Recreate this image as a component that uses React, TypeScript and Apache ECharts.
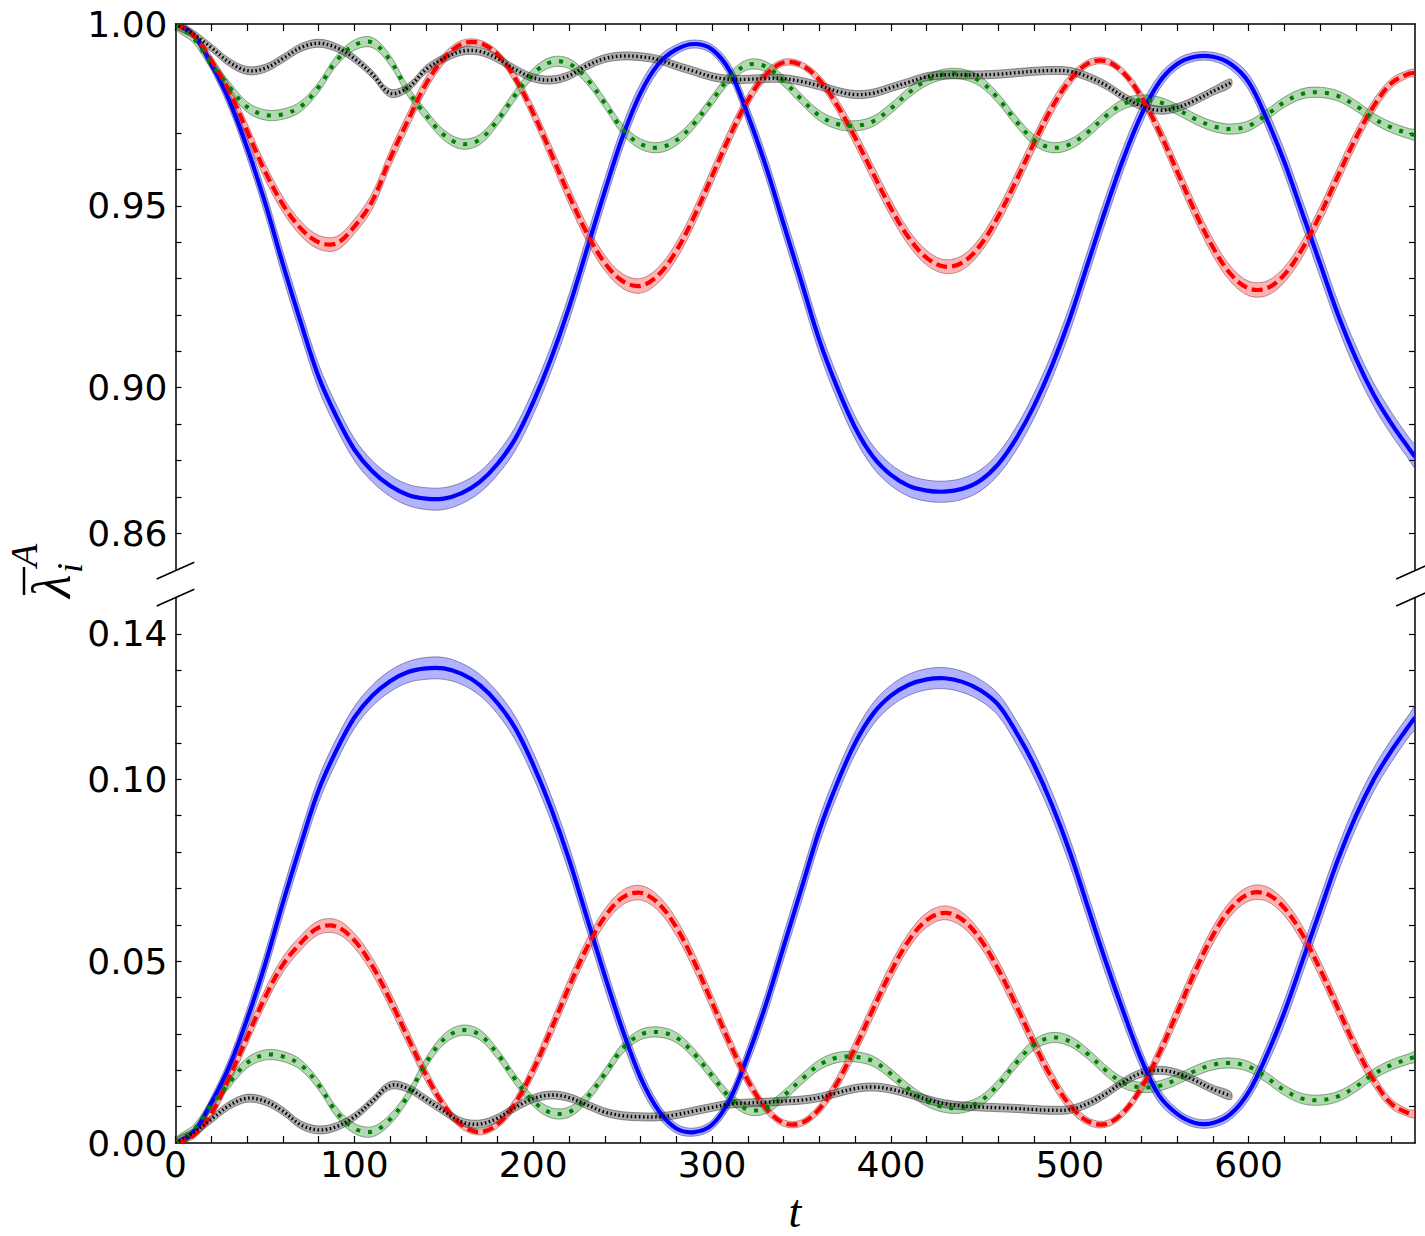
import React, { useEffect, useRef } from "react";
import * as echarts from "echarts";

// ---------- data ----------
const tValues = [
  0, 10, 20, 30, 40, 50, 60, 70, 80, 90,
  100, 110, 120, 130, 140, 150, 160, 170, 180, 190,
  200, 210, 220, 230, 240, 250, 260, 270, 280, 290,
  300, 310, 320, 330, 340, 350, 360, 370, 380, 390,
  400, 410, 420, 430, 440, 450, 460, 470, 480, 490,
  500, 510, 520, 530, 540, 550, 560, 570, 580, 590,
  600, 610, 620, 630, 640, 650, 660, 670, 680, 690, 693,
];

// upper panel (large eigenvalue)
const blueTop = [
  1.0, 0.997, 0.989, 0.979, 0.966, 0.951, 0.934, 0.918, 0.903, 0.892,
  0.883, 0.877, 0.873, 0.8705, 0.8695, 0.8695, 0.871, 0.874, 0.879, 0.886,
  0.896, 0.908, 0.922, 0.938, 0.954, 0.969, 0.981, 0.989, 0.993, 0.9945,
  0.993, 0.987, 0.975, 0.961, 0.945, 0.929, 0.913, 0.9, 0.889, 0.881,
  0.876, 0.873, 0.8717, 0.8714, 0.8722, 0.8745, 0.879, 0.886, 0.895, 0.906,
  0.919, 0.934, 0.949, 0.963, 0.975, 0.984, 0.989, 0.991, 0.991, 0.989,
  0.984, 0.974, 0.962, 0.948, 0.934, 0.92, 0.908, 0.898, 0.89, 0.883, 0.881,
];
const redTop = [
  1.0, 0.997, 0.99, 0.9815, 0.9706, 0.9595, 0.9504, 0.9438, 0.94, 0.9397,
  0.9443, 0.9513, 0.963, 0.9735, 0.9835, 0.9905, 0.9945, 0.9948, 0.9917, 0.985,
  0.9755, 0.9644, 0.9529, 0.9425, 0.9343, 0.9293, 0.928, 0.931, 0.9376, 0.9471,
  0.9582, 0.9693, 0.979, 0.986, 0.9894, 0.9887, 0.9846, 0.9776, 0.9687, 0.9589,
  0.9493, 0.9412, 0.9357, 0.9333, 0.9344, 0.9392, 0.9471, 0.9569, 0.9673, 0.977,
  0.9845, 0.9891, 0.9898, 0.9866, 0.9799, 0.9705, 0.9595, 0.9484, 0.9386, 0.9312,
  0.9273, 0.9273, 0.9311, 0.9382, 0.9476, 0.9583, 0.9687, 0.9775, 0.9838, 0.9864, 0.9865,
];
const greenTop = [
  1.0, 0.9962, 0.989, 0.9828, 0.9772, 0.975, 0.9752, 0.9773, 0.9826, 0.9899,
  0.9942, 0.9949, 0.99, 0.9815, 0.975, 0.9695, 0.967, 0.9682, 0.9735, 0.9805,
  0.9864, 0.9895, 0.9891, 0.9849, 0.9782, 0.971, 0.967, 0.966, 0.968, 0.9727,
  0.979, 0.9853, 0.9888, 0.9883, 0.9843, 0.9793, 0.9748, 0.9725, 0.972, 0.9732,
  0.9768, 0.9811, 0.9845, 0.9862, 0.9862, 0.9842, 0.9795, 0.9733, 0.9681, 0.966,
  0.9669, 0.9702, 0.9746, 0.978, 0.9791, 0.9785, 0.9765, 0.9739, 0.9719, 0.9711,
  0.972, 0.975, 0.9785, 0.9808, 0.9812, 0.9802, 0.9775, 0.974, 0.9715, 0.9698, 0.9695,
];
const blackTop = [
  1.0, 0.9972, 0.9935, 0.9895, 0.9872, 0.9878, 0.9905, 0.9935, 0.9947, 0.9935,
  0.9905, 0.9862, 0.981, 0.9825, 0.9875, 0.9905, 0.9925, 0.9925, 0.9905, 0.9875,
  0.9852, 0.9846, 0.9858, 0.9885, 0.9905, 0.9912, 0.991, 0.9902, 0.9885, 0.987,
  0.9855, 0.9848, 0.9848, 0.985, 0.985, 0.9842, 0.983, 0.9815, 0.9806, 0.981,
  0.9825, 0.984, 0.9855, 0.986, 0.986, 0.986, 0.9862, 0.9866, 0.987, 0.9872,
  0.987, 0.9855, 0.9832, 0.98, 0.9775, 0.9763, 0.977, 0.979, 0.9815, 0.9838,
];

// lower panel (small eigenvalue)
const blueBottom = [
  0, 0.003, 0.011, 0.021, 0.034, 0.049, 0.066, 0.082, 0.097, 0.108,
  0.117, 0.123, 0.127, 0.1295, 0.1305, 0.1305, 0.129, 0.126, 0.121, 0.114,
  0.104, 0.092, 0.078, 0.062, 0.046, 0.031, 0.018, 0.009, 0.004, 0.003,
  0.005, 0.012, 0.024, 0.038, 0.054, 0.07, 0.086, 0.099, 0.11, 0.118,
  0.123, 0.126, 0.1275, 0.1278, 0.1268, 0.1245, 0.1205, 0.113, 0.104, 0.093,
  0.08, 0.065, 0.05, 0.036, 0.023, 0.013, 0.008, 0.0055, 0.0055, 0.008,
  0.014, 0.024, 0.036, 0.05, 0.064, 0.078, 0.09, 0.1, 0.108, 0.115, 0.117,
];
const redBottom = [
  0, 0.002, 0.008, 0.018, 0.029, 0.04, 0.049, 0.055, 0.0592, 0.0595,
  0.0557, 0.0487, 0.0393, 0.0289, 0.0188, 0.0104, 0.0049, 0.003, 0.0051, 0.011,
  0.0201, 0.0312, 0.0429, 0.0537, 0.0622, 0.0675, 0.0688, 0.0659, 0.0593, 0.0498,
  0.0386, 0.0273, 0.0172, 0.0096, 0.0055, 0.0055, 0.0094, 0.0166, 0.0262, 0.0368,
  0.0471, 0.0557, 0.0613, 0.0633, 0.0614, 0.056, 0.0478, 0.0378, 0.0274, 0.0178,
  0.0104, 0.006, 0.0052, 0.0084, 0.0152, 0.0247, 0.0358, 0.0471, 0.0571, 0.0645,
  0.0685, 0.0685, 0.0646, 0.0574, 0.0477, 0.0369, 0.0262, 0.0172, 0.0107, 0.0081, 0.008,
];
const greenBottom = [
  0, 0.0035, 0.0105, 0.0165, 0.022, 0.0242, 0.0238, 0.0215, 0.016, 0.0085,
  0.004, 0.0031, 0.0065, 0.013, 0.022, 0.0285, 0.031, 0.0298, 0.0245, 0.0175,
  0.0115, 0.0083, 0.0085, 0.0125, 0.019, 0.026, 0.0298, 0.0305, 0.029, 0.0245,
  0.0185, 0.0125, 0.0092, 0.0095, 0.013, 0.0175, 0.0215, 0.0235, 0.0237, 0.0225,
  0.019, 0.0148, 0.0115, 0.0098, 0.0097, 0.0115, 0.016, 0.022, 0.027, 0.029,
  0.028, 0.0245, 0.02, 0.0165, 0.0153, 0.0157, 0.0175, 0.0198, 0.0215, 0.022,
  0.021, 0.018, 0.0145, 0.0122, 0.0118, 0.0128, 0.0155, 0.019, 0.0215, 0.0232, 0.0237,
];
const blackBottom = [
  0, 0.0028, 0.0065, 0.0103, 0.0123, 0.0115, 0.0088, 0.005, 0.0036, 0.0045,
  0.0072, 0.0115, 0.0158, 0.015, 0.012, 0.0088, 0.0058, 0.0052, 0.0068, 0.0098,
  0.0122, 0.0132, 0.0125, 0.0105, 0.0085, 0.0075, 0.0072, 0.0072, 0.0078, 0.0088,
  0.0098, 0.0107, 0.011, 0.0112, 0.0115, 0.0118, 0.0125, 0.0138, 0.015, 0.0154,
  0.0148, 0.0135, 0.012, 0.0108, 0.0102, 0.0099, 0.0097, 0.0095, 0.0092, 0.009,
  0.0092, 0.0108, 0.0135, 0.0168, 0.0192, 0.02, 0.0192, 0.0172, 0.0148, 0.013,
];

// half-widths of the shaded bands
const blueBand = [
  0.0003, 0.0009, 0.0016, 0.0022, 0.0028, 0.0032, 0.0035, 0.0035, 0.0034, 0.0032,
  0.003, 0.0029, 0.0029, 0.0029, 0.003, 0.003, 0.0029, 0.0029, 0.003, 0.0032,
  0.0034, 0.0035, 0.0036, 0.0036, 0.0035, 0.0032, 0.0026, 0.0019, 0.0013, 0.0011,
  0.0013, 0.002, 0.0027, 0.0032, 0.0035, 0.0036, 0.0035, 0.0033, 0.0031, 0.003,
  0.0029, 0.0029, 0.0029, 0.0029, 0.0029, 0.0029, 0.003, 0.0032, 0.0034, 0.0035,
  0.0036, 0.0036, 0.0035, 0.0032, 0.0027, 0.002, 0.0014, 0.0012, 0.0012, 0.0015,
  0.0021, 0.0028, 0.0033, 0.0035, 0.0036, 0.0035, 0.0034, 0.0032, 0.0031, 0.003, 0.003,
];
const redBand = [
  0.0003, 0.0008, 0.0013, 0.0018, 0.0021, 0.0022, 0.0021, 0.002, 0.0019, 0.0019,
  0.002, 0.0022, 0.0023, 0.0022, 0.0019, 0.0014, 0.001, 0.0008, 0.001, 0.0015,
  0.002, 0.0023, 0.0024, 0.0023, 0.0021, 0.002, 0.002, 0.0021, 0.0023, 0.0024,
  0.0024, 0.0022, 0.0018, 0.0013, 0.0009, 0.0009, 0.0013, 0.0018, 0.0022, 0.0023,
  0.0023, 0.0021, 0.002, 0.0019, 0.002, 0.0021, 0.0023, 0.0024, 0.0023, 0.002,
  0.0015, 0.001, 0.0009, 0.0011, 0.0016, 0.0021, 0.0024, 0.0024, 0.0023, 0.0021,
  0.002, 0.002, 0.0021, 0.0023, 0.0024, 0.0024, 0.0022, 0.0018, 0.0013, 0.001, 0.001,
];
const greenBandWidth = 0.0014;
const blackBandWidth = 0.0011;

// ticks and labels
const tTickValues = [
  0, 20, 40, 60, 80, 100, 120, 140, 160, 180, 200, 220, 240, 260, 280, 300, 320, 340,
  360, 380, 400, 420, 440, 460, 480, 500, 520, 540, 560, 580, 600, 620, 640, 660, 680,
];
const tLabelValues = [0, 100, 200, 300, 400, 500, 600];
const topTickValues = [0.86, 0.87, 0.88, 0.89, 0.9, 0.91, 0.92, 0.93, 0.94, 0.95, 0.96, 0.97];
const topLabelValues = [0.86, 0.9, 0.95, 1.0];
const bottomTickValues = [0.01, 0.02, 0.03, 0.04, 0.05, 0.06, 0.07, 0.08, 0.09, 0.1, 0.11, 0.12, 0.13, 0.14];
const bottomLabelValues = [0, 0.05, 0.1, 0.14];

// ---------- styling ----------
const SMOOTH = 0.35;
const GRID_LEFT = 175.5;
const GRID_RIGHT = 10;
const TOP_GRID_TOP = 24;
const PANEL_H = 545.5;
const BOTTOM_GRID_TOP = 597.5;

const styles: Record<string, any> = {
  blue: { color: "#0000ff", width: 4.2, dash: null, fill: "rgba(0,0,255,0.30)", edge: "rgba(60,60,130,0.55)" },
  red: { color: "#ff0000", width: 4.2, dash: [11, 5], fill: "rgba(255,0,0,0.30)", edge: "rgba(130,60,60,0.5)" },
  green: { color: "#007f00", width: 4.0, dash: [4, 8], fill: "rgba(0,128,0,0.30)", edge: "rgba(40,90,40,0.5)" },
  black: { color: "#000000", width: 3.4, dash: [1.5, 2.6], fill: "rgba(0,0,0,0.32)", edge: "rgba(50,50,50,0.5)" },
};

type Layer = { t: number[]; v: number[]; w: number[]; st: any };

function panelSeries(xi: number, yi: number, anchor: number, layers: Layer[]) {
  return {
    type: "custom",
    xAxisIndex: xi,
    yAxisIndex: yi,
    data: [[0, anchor]],
    clip: true,
    silent: true,
    z: 2,
    renderItem: (params: any, api: any) => {
      if (params.dataIndex !== 0) return null;
      const cs = params.coordSys;
      const children: any[] = [];
      for (const L of layers) {
        const up = L.t.map((t, i) => api.coord([t, L.v[i] + L.w[i]]));
        const lo = L.t.map((t, i) => api.coord([t, L.v[i] - L.w[i]])).reverse();
        children.push({
          type: "polygon",
          shape: { points: up.concat(lo), smooth: SMOOTH, smoothConstraint: false },
          style: { fill: L.st.fill, stroke: L.st.edge, lineWidth: 1 },
        });
      }
      for (const L of layers) {
        const pts = L.t.map((t, i) => api.coord([t, L.v[i]]));
        children.push({
          type: "polyline",
          shape: { points: pts, smooth: SMOOTH, smoothConstraint: false },
          style: {
            fill: "none",
            stroke: L.st.color,
            lineWidth: L.st.width,
            lineDash: L.st.dash,
            lineCap: "butt",
            lineJoin: "round",
          },
        });
      }
      return {
        type: "group",
        clipPath: { type: "rect", shape: { x: cs.x, y: cs.y, width: cs.width, height: cs.height } },
        children,
      };
    },
  };
}

function yAxisDef(gridIndex: number, position: string, min: number, max: number, ticks: number[], labels: number[] | null) {
  return {
    type: "value",
    gridIndex,
    position,
    min,
    max,
    axisLine: { show: true, onZero: false, lineStyle: { color: "#000", width: 1.5 } },
    axisTick: { show: true, inside: true, length: 6, customValues: ticks, lineStyle: { color: "#000", width: 1.2 } },
    axisLabel: labels
      ? {
          show: true,
          customValues: labels,
          formatter: (v: number) => v.toFixed(2),
          fontSize: 36,
          fontFamily: "DejaVu Sans",
          color: "#000",
          margin: 8,
        }
      : { show: false },
    splitLine: { show: false },
  };
}

function xAxisDef(gridIndex: number, position: string, showLabels: boolean) {
  return {
    type: "value",
    gridIndex,
    position,
    min: 0,
    max: 693,
    axisLine: { show: true, onZero: false, lineStyle: { color: "#000", width: 1.5 } },
    axisTick: { show: true, inside: true, length: 7, customValues: tTickValues, lineStyle: { color: "#000", width: 1.2 } },
    axisLabel: showLabels
      ? { show: true, customValues: tLabelValues, fontSize: 36, fontFamily: "DejaVu Sans", color: "#000", margin: 3 }
      : { show: false },
    splitLine: { show: false },
  };
}

function breakMark(cx: number, cy: number) {
  return {
    type: "line",
    z: 100,
    shape: { x1: cx - 18.8, y1: cy + 8.4, x2: cx + 18.8, y2: cy - 8.4 },
    style: { stroke: "#000", lineWidth: 1.5 },
  };
}

export default function App() {
  const ref = useRef<HTMLDivElement>(null);

  useEffect(() => {
    document.body.style.margin = "0";
    if (!ref.current) return;
    const chart = echarts.init(ref.current, undefined, { renderer: "svg" });

    const blackT = tValues.slice(0, blackTop.length);
    const greenW = tValues.map(() => greenBandWidth);
    const blackW = blackT.map(() => blackBandWidth);

    const topLayers: Layer[] = [
      { t: tValues, v: blueTop, w: blueBand, st: styles.blue },
      { t: tValues, v: redTop, w: redBand, st: styles.red },
      { t: tValues, v: greenTop, w: greenW, st: styles.green },
      { t: blackT, v: blackTop, w: blackW, st: styles.black },
    ];
    const bottomLayers: Layer[] = [
      { t: tValues, v: blueBottom, w: blueBand, st: styles.blue },
      { t: tValues, v: redBottom, w: redBand, st: styles.red },
      { t: tValues, v: greenBottom, w: greenW, st: styles.green },
      { t: blackT, v: blackBottom, w: blackW, st: styles.black },
    ];

    const mathFont = '"Liberation Serif", "DejaVu Serif", serif';
    const txt = (text: string, size: number) => ({
      text,
      font: `italic ${size}px ${mathFont}`,
      fill: "#000",
      align: "left",
      verticalAlign: "middle",
      textAlign: "left",
      textVerticalAlign: "middle",
    });

    chart.setOption({
      animation: false,
      backgroundColor: "#ffffff",
      grid: [
        { left: GRID_LEFT, right: GRID_RIGHT, top: TOP_GRID_TOP, height: PANEL_H, outerBoundsMode: "none", containLabel: false },
        { left: GRID_LEFT, right: GRID_RIGHT, top: BOTTOM_GRID_TOP, height: PANEL_H, outerBoundsMode: "none", containLabel: false },
      ],
      xAxis: [xAxisDef(0, "top", false), xAxisDef(1, "bottom", true)],
      yAxis: [
        yAxisDef(0, "left", 0.85, 1.0, topTickValues, topLabelValues),
        yAxisDef(0, "right", 0.85, 1.0, topTickValues, null),
        yAxisDef(1, "left", 0, 0.15, bottomTickValues, bottomLabelValues),
        yAxisDef(1, "right", 0, 0.15, bottomTickValues, null),
      ],
      series: [panelSeries(0, 0, 0.9, topLayers), panelSeries(1, 2, 0.05, bottomLayers)],
      graphic: [
        breakMark(175.5, 570.6),
        breakMark(175.5, 597.6),
        breakMark(1415, 570.6),
        breakMark(1415, 597.6),
        {
          type: "text",
          x: 795,
          y: 1211,
          z: 100,
          style: { ...txt("t", 46), align: "center", textAlign: "center" },
        },
        {
          type: "group",
          x: 70,
          y: 598,
          rotation: Math.PI / 2,
          z: 100,
          children: [
            { type: "text", x: 0, y: -18, style: txt("λ", 54) },
            { type: "line", shape: { x1: 3, y1: -46, x2: 31, y2: -46 }, style: { stroke: "#000", lineWidth: 2.5 } },
            { type: "text", x: 31, y: -46, style: txt("A", 38) },
            { type: "text", x: 25, y: 0, style: txt("i", 36) },
          ],
        },
      ],
    });

    return () => chart.dispose();
  }, []);

  return <div ref={ref} style={{ width: 1425, height: 1236 }} />;
}
